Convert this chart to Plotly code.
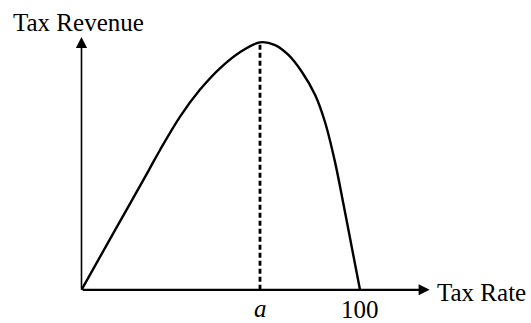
import plotly.graph_objects as go

# Laffer curve: tax revenue as a function of the tax rate
tax_rate = [0, 12.1, 24.2, 28.2, 35.4, 42.5, 49.7, 56.9, 64.1,
            69.5, 74.3, 79.1, 83.9, 87.4, 91.0, 94.0, 97.0, 100]
revenue = [0, 24.2, 48.4, 56.5, 70.0, 80.8, 89.5, 96.0, 100,
           98.9, 94.9, 88.1, 78.7, 67.9, 51.8, 35.0, 17.5, 0]

peak_rate = 64.1          # the revenue-maximising rate "a"
peak_revenue = max(revenue)

x_axis_end = 125
y_axis_end = 102.2

tick_labels = {"a": peak_rate, "100": 100}
x_title = "Tax Rate"
y_title = "Tax Revenue"

FONT = "Liberation Serif"
BLACK = "black"
FS = 25

fig = go.Figure()

# revenue curve
fig.add_trace(go.Scatter(
    x=tax_rate, y=revenue, mode="lines",
    line=dict(color=BLACK, width=2.4, shape="spline", smoothing=1.0),
    hoverinfo="skip",
))

# dashed drop line at the peak
fig.add_trace(go.Scatter(
    x=[peak_rate, peak_rate], y=[0, peak_revenue], mode="lines",
    line=dict(color=BLACK, width=2.8, dash="5px,3px"),
    hoverinfo="skip",
))

# axes drawn as arrows
fig.add_annotation(x=x_axis_end, y=0, ax=0, ay=0, xref="x", yref="y",
                   axref="x", ayref="y", showarrow=True, arrowhead=2,
                   arrowsize=1, arrowwidth=2.2, arrowcolor=BLACK, text="")
fig.add_annotation(x=0, y=y_axis_end, ax=0, ay=0, xref="x", yref="y",
                   axref="x", ayref="y", showarrow=True, arrowhead=2,
                   arrowsize=1.4, arrowwidth=1.6, arrowcolor=BLACK, text="")

# axis titles
fig.add_annotation(x=-25.4, y=107.9, xref="x", yref="y", text=y_title,
                   showarrow=False, xanchor="left", yanchor="middle",
                   font=dict(family=FONT, size=FS, color=BLACK))
fig.add_annotation(x=126.9, y=-1.0, xref="x", yref="y", text=x_title,
                   showarrow=False, xanchor="left", yanchor="middle",
                   font=dict(family=FONT, size=FS, color=BLACK))

# tick labels under the horizontal axis
fig.add_annotation(x=tick_labels["a"], y=-13.35, xref="x", yref="y", text="<i>a</i>",
                   showarrow=False, xanchor="center", yanchor="bottom",
                   borderpad=0, font=dict(family=FONT, size=FS, color=BLACK))
fig.add_annotation(x=tick_labels["100"], y=-7.9, xref="x", yref="y", text="100",
                   showarrow=False, xanchor="center", yanchor="middle",
                   font=dict(family=FONT, size=FS, color=BLACK))

fig.update_xaxes(range=[-29.26, 161.4], visible=False, fixedrange=True)
fig.update_yaxes(range=[-13.4, 117.1], visible=False, fixedrange=True)
fig.update_layout(
    width=531, height=323,
    margin=dict(l=0, r=0, t=0, b=0),
    paper_bgcolor="white", plot_bgcolor="white",
    showlegend=False,
)

fig.write_html("out.html")
